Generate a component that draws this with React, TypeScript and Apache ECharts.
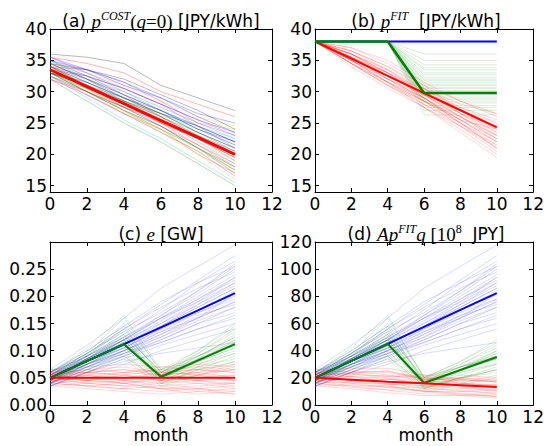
import React, { useEffect, useRef } from 'react';
import * as echarts from 'echarts';

// ---------------- data ----------------
const MONTHS = [0, 2, 4, 6, 8, 10];

const COST_Y_TICKS = [15, 20, 25, 30, 35, 40];
const E_Y_TICKS = [0, 0.05, 0.1, 0.15, 0.2, 0.25];
const D_Y_TICKS = [0, 20, 40, 60, 80, 100, 120];

// (a) p^COST(q=0): thin sample paths (multi-coloured) + mean
const COST_PATHS = [
  [34.5, 32.0, 29.5, 27.0, 24.5, 22.0],
  [33.0, 30.0, 27.0, 24.0, 21.0, 18.0],
  [35.5, 34.5, 33.0, 30.0, 28.0, 26.0],
  [32.5, 29.0, 25.5, 22.5, 19.0, 15.5],
  [34.0, 31.5, 28.5, 26.0, 23.0, 20.5],
  [33.5, 31.0, 28.5, 25.5, 22.0, 19.0],
  [36.0, 35.5, 34.5, 31.0, 29.0, 27.0],
  [34.0, 32.5, 30.5, 28.0, 25.5, 23.5],
  [32.0, 28.5, 25.0, 22.0, 18.5, 15.0],
  [33.0, 31.0, 28.0, 25.0, 22.5, 20.0],
  [35.0, 33.0, 30.0, 27.5, 25.0, 22.5],
  [33.5, 30.5, 27.5, 24.5, 21.5, 18.5],
  [34.5, 32.5, 30.0, 27.5, 25.0, 24.0],
  [32.5, 30.0, 27.0, 24.5, 21.0, 17.5],
  [35.0, 32.5, 29.5, 27.0, 24.0, 21.5],
  [33.0, 30.5, 28.5, 26.0, 23.5, 21.0],
  [34.0, 31.0, 28.0, 25.0, 21.5, 18.0],
  [33.5, 32.0, 30.0, 27.0, 24.5, 22.5],
  [32.0, 29.5, 26.5, 23.5, 20.5, 16.5],
  [34.5, 33.0, 31.0, 28.5, 26.0, 24.5],
  [33.0, 30.0, 27.5, 25.5, 22.5, 19.5],
  [35.5, 33.5, 31.0, 29.0, 26.5, 25.0],
  [34.0, 31.5, 29.0, 26.0, 23.0, 20.0],
  [32.5, 29.5, 26.5, 24.0, 20.0, 17.0],
  [33.5, 31.5, 29.0, 26.5, 24.0, 21.5],
  [34.0, 33.5, 31.5, 28.5, 25.0, 23.0],
  [33.0, 30.5, 27.0, 23.5, 20.0, 16.0],
  [34.5, 32.0, 29.0, 26.5, 23.5, 21.0],
  [35.0, 33.5, 31.5, 29.0, 26.0, 23.5],
  [33.0, 31.0, 29.0, 26.5, 23.5, 20.5],
  [34.0, 32.0, 29.5, 26.0, 22.5, 19.5],
  [32.5, 30.5, 28.0, 25.5, 22.0, 18.5],
  [35.5, 33.0, 30.5, 28.0, 25.5, 23.0],
  [33.5, 30.0, 26.5, 23.5, 20.5, 17.5],
  [34.5, 33.5, 32.0, 29.5, 27.0, 24.0],
  [33.0, 31.5, 29.0, 27.0, 24.0, 22.0],
  [34.0, 31.0, 27.5, 24.5, 21.0, 17.0],
  [32.0, 30.0, 27.5, 25.0, 22.5, 19.0],
  [35.0, 32.0, 28.5, 25.5, 23.0, 20.5],
  [33.5, 32.5, 30.5, 28.0, 24.5, 21.0],
  [34.0, 30.5, 27.0, 24.0, 21.0, 18.0],
  [33.0, 31.0, 28.5, 26.5, 24.5, 22.0],
];
const COST_MEAN = [33.5, 30.8, 28.1, 25.4, 22.7, 20.0];

// (b) p^FIT
const FIT_RED_PATHS = [
  [38, 35.5, 32.5, 29.5, 26.0, 23.0],
  [38, 36.5, 34.0, 31.0, 28.5, 26.0],
  [38, 35.0, 31.5, 28.0, 24.5, 21.0],
  [38, 36.0, 33.0, 30.0, 27.0, 24.0],
  [38, 34.5, 31.0, 28.0, 25.0, 22.0],
  [38, 35.5, 33.0, 30.5, 27.0, 23.5],
  [38, 37.0, 35.0, 31.5, 28.5, 26.5],
  [38, 35.0, 32.0, 29.0, 25.5, 22.5],
  [38, 34.5, 31.5, 27.5, 23.5, 19.5],
  [38, 36.0, 33.5, 30.0, 26.5, 24.5],
  [38, 35.5, 32.0, 29.0, 25.0, 21.5],
  [38, 36.5, 33.5, 29.5, 27.5, 25.5],
  [38, 35.0, 32.5, 30.0, 26.5, 23.0],
  [38, 34.0, 30.5, 27.5, 24.5, 20.5],
  [38, 36.0, 33.0, 29.5, 26.0, 22.5],
  [38, 35.5, 32.5, 28.5, 25.5, 24.0],
  [38, 37.0, 34.5, 31.0, 27.0, 25.0],
  [38, 35.0, 31.5, 28.5, 25.0, 21.0],
  [38, 36.0, 32.5, 29.5, 26.5, 23.5],
  [38, 34.5, 31.0, 28.5, 25.5, 22.0],
  [38, 35.5, 33.0, 29.0, 25.5, 22.0],
  [38, 36.0, 33.5, 30.5, 27.5, 25.0],
  [38, 34.5, 31.0, 27.5, 24.0, 20.0],
  [38, 35.5, 32.0, 28.5, 26.0, 23.0],
  [38, 36.5, 34.0, 30.5, 26.5, 24.0],
  [38, 35.0, 31.5, 29.0, 26.0, 22.5],
  [38, 35.5, 32.5, 30.5, 28.0, 26.5],
  [38, 34.5, 31.5, 28.5, 24.5, 21.5],
  [38, 36.0, 33.0, 29.0, 25.0, 21.0],
  [38, 35.0, 32.0, 29.5, 27.0, 24.5],
];
const FIT_GREEN_PATHS = [
  [38, 38, 38, 36.0, 36.0, 36.0],
  [38, 38, 38, 34.3, 34.3, 34.3],
  [38, 38, 38, 33.5, 33.5, 33.5],
  [38, 38, 38, 32.7, 32.7, 32.7],
  [38, 38, 38, 32.0, 32.0, 32.0],
  [38, 38, 38, 31.5, 31.5, 31.5],
  [38, 38, 38, 31.0, 31.0, 31.0],
  [38, 38, 38, 30.5, 30.5, 30.5],
  [38, 38, 38, 30.2, 30.2, 30.2],
  [38, 38, 38, 29.6, 29.6, 29.6],
  [38, 38, 38, 29.3, 29.3, 29.3],
  [38, 38, 38, 28.8, 28.8, 28.8],
  [38, 38, 38, 28.2, 28.2, 28.2],
  [38, 38, 38, 27.8, 27.8, 27.8],
  [38, 38, 38, 27.0, 27.0, 27.0],
  [38, 38, 38, 26.3, 26.3, 26.3],
  [38, 38, 38, 31.2, 31.2, 31.2],
  [38, 38, 38, 32.3, 32.3, 32.3],
  [38, 38, 38, 30.7, 30.7, 30.7],
  [38, 38, 38, 33.0, 33.0, 33.0],
  [38, 38, 38, 35.0, 35.0, 35.0],
  [38, 38, 38, 33.8, 33.8, 33.8],
  [38, 38, 38, 31.8, 31.8, 31.8],
  [38, 38, 38, 30.0, 30.0, 30.0],
  [38, 38, 38, 28.5, 28.5, 28.5],
  [38, 38, 38, 27.5, 27.5, 27.5],
  [38, 38, 38, 29.0, 29.0, 29.0],
];
const FIT_BLUE_MAIN = [38, 38, 38, 38, 38, 38];
const FIT_GREEN_MAIN = [38, 38, 38, 29.8, 29.8, 29.8];
const FIT_RED_MAIN = [38, 35.26, 32.52, 29.78, 27.04, 24.3];

// (c) e [GW]
const E_BLUE_PATHS = [
  [0.050, 0.075, 0.100, 0.135, 0.170, 0.200],
  [0.045, 0.080, 0.120, 0.160, 0.200, 0.240],
  [0.060, 0.090, 0.130, 0.175, 0.225, 0.265],
  [0.040, 0.065, 0.090, 0.115, 0.140, 0.165],
  [0.055, 0.085, 0.115, 0.145, 0.180, 0.215],
  [0.035, 0.060, 0.085, 0.110, 0.130, 0.150],
  [0.065, 0.110, 0.160, 0.215, 0.255, 0.295],
  [0.050, 0.080, 0.110, 0.150, 0.190, 0.225],
  [0.045, 0.070, 0.095, 0.120, 0.150, 0.180],
  [0.055, 0.090, 0.125, 0.165, 0.205, 0.250],
  [0.040, 0.060, 0.080, 0.095, 0.105, 0.115],
  [0.050, 0.085, 0.115, 0.155, 0.195, 0.235],
  [0.060, 0.095, 0.135, 0.170, 0.210, 0.255],
  [0.045, 0.075, 0.105, 0.140, 0.170, 0.195],
  [0.035, 0.055, 0.075, 0.100, 0.120, 0.140],
  [0.055, 0.080, 0.110, 0.145, 0.185, 0.220],
  [0.050, 0.090, 0.140, 0.180, 0.215, 0.245],
  [0.040, 0.070, 0.100, 0.130, 0.160, 0.190],
  [0.060, 0.085, 0.120, 0.160, 0.195, 0.230],
  [0.045, 0.075, 0.100, 0.125, 0.160, 0.205],
  [0.050, 0.080, 0.105, 0.140, 0.175, 0.210],
  [0.055, 0.095, 0.140, 0.185, 0.230, 0.275],
  [0.045, 0.070, 0.100, 0.130, 0.165, 0.185],
  [0.060, 0.090, 0.120, 0.150, 0.185, 0.225],
  [0.040, 0.075, 0.110, 0.145, 0.180, 0.215],
  [0.050, 0.085, 0.125, 0.160, 0.190, 0.235],
  [0.035, 0.060, 0.090, 0.120, 0.150, 0.170],
  [0.055, 0.080, 0.105, 0.135, 0.160, 0.190],
  [0.045, 0.085, 0.120, 0.165, 0.210, 0.260],
  [0.060, 0.100, 0.145, 0.190, 0.225, 0.255],
  [0.050, 0.075, 0.095, 0.115, 0.140, 0.160],
  [0.040, 0.065, 0.095, 0.125, 0.155, 0.180],
];
const E_GREEN_PATHS = [
  [0.050, 0.080, 0.110, 0.050, 0.080, 0.110],
  [0.045, 0.085, 0.130, 0.060, 0.095, 0.135],
  [0.060, 0.105, 0.165, 0.065, 0.100, 0.145],
  [0.040, 0.065, 0.090, 0.040, 0.055, 0.075],
  [0.055, 0.090, 0.125, 0.055, 0.090, 0.125],
  [0.035, 0.060, 0.085, 0.035, 0.055, 0.070],
  [0.050, 0.085, 0.120, 0.050, 0.075, 0.100],
  [0.045, 0.075, 0.100, 0.045, 0.070, 0.095],
  [0.055, 0.095, 0.140, 0.060, 0.090, 0.120],
  [0.050, 0.080, 0.115, 0.045, 0.085, 0.115],
  [0.060, 0.095, 0.135, 0.055, 0.085, 0.130],
  [0.040, 0.070, 0.095, 0.040, 0.065, 0.090],
  [0.050, 0.090, 0.150, 0.065, 0.090, 0.115],
  [0.045, 0.075, 0.105, 0.050, 0.080, 0.105],
  [0.055, 0.085, 0.120, 0.045, 0.070, 0.085],
  [0.050, 0.080, 0.110, 0.055, 0.095, 0.140],
  [0.050, 0.085, 0.125, 0.050, 0.080, 0.105],
  [0.045, 0.080, 0.115, 0.040, 0.065, 0.080],
  [0.055, 0.090, 0.130, 0.060, 0.100, 0.150],
  [0.040, 0.075, 0.110, 0.055, 0.075, 0.095],
  [0.060, 0.100, 0.145, 0.050, 0.080, 0.120],
  [0.050, 0.070, 0.090, 0.045, 0.060, 0.080],
  [0.055, 0.095, 0.160, 0.060, 0.085, 0.110],
  [0.045, 0.080, 0.120, 0.050, 0.090, 0.125],
];
const E_RED_PATHS = [
  [0.050, 0.045, 0.055, 0.050, 0.045, 0.050],
  [0.045, 0.040, 0.035, 0.040, 0.030, 0.035],
  [0.060, 0.065, 0.060, 0.070, 0.065, 0.060],
  [0.040, 0.035, 0.030, 0.025, 0.030, 0.025],
  [0.055, 0.060, 0.065, 0.055, 0.060, 0.065],
  [0.050, 0.055, 0.045, 0.050, 0.055, 0.045],
  [0.035, 0.030, 0.025, 0.020, 0.025, 0.020],
  [0.065, 0.070, 0.075, 0.070, 0.075, 0.070],
  [0.045, 0.050, 0.040, 0.045, 0.040, 0.040],
  [0.055, 0.050, 0.060, 0.065, 0.055, 0.055],
  [0.050, 0.040, 0.045, 0.035, 0.040, 0.030],
  [0.060, 0.055, 0.050, 0.060, 0.065, 0.060],
  [0.040, 0.045, 0.040, 0.030, 0.035, 0.040],
  [0.050, 0.060, 0.055, 0.045, 0.050, 0.055],
  [0.045, 0.035, 0.030, 0.035, 0.025, 0.030],
  [0.055, 0.065, 0.070, 0.060, 0.065, 0.075],
  [0.050, 0.055, 0.060, 0.055, 0.050, 0.045],
  [0.040, 0.035, 0.040, 0.030, 0.020, 0.025],
  [0.060, 0.060, 0.055, 0.065, 0.070, 0.065],
  [0.045, 0.050, 0.045, 0.040, 0.045, 0.035],
  [0.055, 0.045, 0.050, 0.055, 0.060, 0.050],
  [0.035, 0.040, 0.035, 0.030, 0.030, 0.020],
  [0.065, 0.060, 0.065, 0.060, 0.055, 0.065],
  [0.050, 0.045, 0.040, 0.050, 0.045, 0.040],
];
const E_BLUE_MAIN = [0.05, 0.081, 0.112, 0.143, 0.174, 0.206];
const E_GREEN_MAIN = [0.05, 0.081, 0.112, 0.052, 0.082, 0.112];
const E_RED_MAIN = [0.05, 0.05, 0.05, 0.05, 0.05, 0.05];

// (d) A p^FIT q [10^8 JPY]
const D_BLUE_PATHS = [
  [20, 30, 40, 54, 66, 78],
  [18, 32, 48, 64, 80, 96],
  [24, 36, 52, 70, 90, 106],
  [16, 26, 36, 46, 56, 66],
  [22, 34, 46, 58, 72, 86],
  [14, 24, 34, 44, 52, 60],
  [26, 44, 64, 86, 102, 118],
  [20, 32, 44, 60, 76, 90],
  [18, 28, 38, 48, 60, 72],
  [22, 36, 50, 66, 82, 100],
  [16, 24, 32, 38, 42, 46],
  [20, 34, 46, 62, 78, 94],
  [24, 38, 54, 68, 84, 102],
  [18, 30, 42, 56, 68, 78],
  [14, 22, 30, 40, 48, 56],
  [22, 32, 44, 58, 74, 88],
  [20, 36, 56, 72, 86, 98],
  [16, 28, 40, 52, 64, 76],
  [24, 34, 48, 64, 78, 92],
  [18, 30, 40, 50, 64, 82],
  [20, 32, 42, 56, 70, 84],
  [22, 38, 56, 74, 92, 110],
  [18, 28, 40, 52, 66, 74],
  [24, 36, 48, 60, 74, 90],
  [16, 30, 44, 58, 72, 86],
  [20, 34, 50, 64, 76, 94],
  [14, 24, 36, 48, 60, 68],
  [22, 32, 42, 54, 64, 76],
  [18, 34, 48, 66, 84, 104],
  [24, 40, 58, 76, 90, 102],
  [20, 30, 38, 46, 56, 64],
  [16, 26, 38, 50, 62, 72],
];
const D_GREEN_PATHS = [
  [20, 32, 44, 16, 26, 36],
  [18, 34, 52, 19, 30, 42],
  [24, 42, 66, 20, 32, 46],
  [16, 26, 36, 11, 16, 22],
  [22, 36, 50, 17, 28, 38],
  [14, 24, 34, 9, 15, 20],
  [20, 34, 48, 15, 22, 30],
  [18, 30, 40, 13, 20, 28],
  [22, 38, 56, 18, 28, 36],
  [20, 32, 46, 14, 26, 34],
  [24, 38, 54, 17, 26, 40],
  [16, 28, 38, 12, 19, 26],
  [20, 36, 60, 21, 28, 34],
  [18, 30, 42, 15, 24, 31],
  [22, 34, 48, 13, 20, 24],
  [20, 32, 44, 17, 30, 44],
  [20, 34, 50, 16, 26, 34],
  [18, 32, 46, 12, 20, 26],
  [22, 36, 52, 20, 32, 48],
  [16, 30, 44, 18, 24, 30],
  [24, 40, 58, 16, 26, 38],
  [20, 28, 36, 14, 20, 26],
  [22, 38, 64, 20, 28, 36],
  [18, 32, 48, 16, 28, 40],
];
const D_RED_PATHS = [
  [20, 18, 19, 16, 14, 14],
  [18, 16, 13, 13, 10, 9],
  [24, 25, 22, 22, 19, 17],
  [16, 13, 11, 8, 8, 6],
  [22, 23, 24, 19, 18, 18],
  [20, 21, 17, 16, 16, 12],
  [14, 12, 9, 7, 7, 5],
  [26, 27, 27, 22, 22, 20],
  [18, 19, 15, 14, 12, 11],
  [22, 19, 21, 21, 16, 15],
  [20, 16, 16, 12, 11, 8],
  [24, 21, 19, 19, 19, 17],
  [16, 17, 14, 10, 10, 11],
  [20, 23, 20, 15, 15, 15],
  [18, 14, 11, 11, 8, 8],
  [22, 24, 25, 19, 20, 19],
  [20, 21, 22, 18, 16, 14],
  [16, 14, 14, 10, 7, 7],
  [24, 23, 21, 20, 20, 18],
  [18, 19, 17, 14, 13, 10],
  [22, 18, 19, 17, 17, 13],
  [14, 15, 13, 10, 9, 6],
  [26, 24, 25, 20, 18, 17],
  [20, 18, 15, 16, 14, 11],
];
const D_BLUE_MAIN = [20, 32.5, 45, 57.5, 70, 82.4];
const D_GREEN_MAIN = [20, 32.5, 45, 16.2, 25.8, 35.3];
const D_RED_MAIN = [20, 18.6, 17.2, 16.0, 14.6, 13.2];

// ---------------- styling ----------------
const BLUE = '#0000ff';
const GREEN = '#008000';
const RED = '#ff0000';
const CYCLE = ['#0000ff', '#008000', '#ff0000', '#00bfbf', '#bf00bf', '#bfbf00', '#000000'];
const SANS = 'DejaVu Sans';
const MATH = 'Liberation Serif';
const FS = 17;

const GRIDS = [
  { left: 50, top: 29, width: 222, height: 163 },
  { left: 315, top: 29, width: 221, height: 163 },
  { left: 50, top: 242, width: 222, height: 163 },
  { left: 315, top: 242, width: 221, height: 163 },
];

const toPts = (vals: number[]) => vals.map((v, i) => [MONTHS[i], v]);

function thin(gi: number, vals: number[], color: string, opacity: number) {
  return {
    type: 'line',
    xAxisIndex: gi * 2,
    yAxisIndex: gi * 2,
    data: toPts(vals),
    symbol: 'none',
    silent: true,
    z: 2,
    lineStyle: { color, width: 1, opacity },
  };
}
function main(gi: number, vals: number[], color: string, width: number, z: number) {
  return {
    type: 'line',
    xAxisIndex: gi * 2,
    yAxisIndex: gi * 2,
    data: toPts(vals),
    symbol: 'none',
    silent: true,
    z,
    lineStyle: { color, width, opacity: 1 },
  };
}

function xAxes(gi: number) {
  const base = {
    gridIndex: gi,
    type: 'value',
    min: 0,
    max: 12,
    interval: 2,
    splitLine: { show: false },
    axisLine: { show: true, onZero: false, lineStyle: { color: '#000', width: 1 } },
    axisTick: { show: true, inside: true, length: 4, lineStyle: { color: '#000', width: 1 } },
  };
  return [
    {
      ...base,
      position: 'bottom',
      axisLabel: {
        show: true,
        margin: 5,
        fontSize: FS,
        lineHeight: 13,
        fontFamily: SANS,
        color: '#000',
        showMinLabel: true,
        showMaxLabel: true,
      },
    },
    { ...base, position: 'top', axisLabel: { show: false } },
  ];
}

function yAxes(gi: number, min: number, max: number, ticks: number[], fmt: (v: number) => string) {
  const base = {
    gridIndex: gi,
    type: 'value',
    min,
    max,
    splitLine: { show: false },
    axisLine: { show: true, onZero: false, lineStyle: { color: '#000', width: 1 } },
  };
  return [
    {
      ...base,
      position: 'left',
      axisTick: { show: true, inside: true, length: 4, customValues: ticks, lineStyle: { color: '#000', width: 1 } },
      axisLabel: {
        show: true,
        margin: 3,
        fontSize: FS,
        lineHeight: 13,
        fontFamily: SANS,
        color: '#000',
        customValues: ticks,
        formatter: (v: number) => fmt(v),
      },
    },
    {
      ...base,
      position: 'right',
      axisTick: { show: true, inside: true, length: 4, customValues: ticks, lineStyle: { color: '#000', width: 1 } },
      axisLabel: { show: false },
    },
  ];
}

const RICH = {
  n: { fontFamily: SANS, fontSize: FS, lineHeight: 26, color: '#000' },
  m: { fontFamily: MATH, fontStyle: 'italic', fontSize: 19, lineHeight: 26, color: '#000' },
  r: { fontFamily: MATH, fontSize: 19, lineHeight: 26, color: '#000' },
  s: { fontFamily: MATH, fontStyle: 'italic', fontSize: 12, height: 10, padding: [3, 0, 0, 0], verticalAlign: 'top', color: '#000' },
  s2: { fontFamily: MATH, fontSize: 12, height: 10, padding: [3, 0, 0, 0], verticalAlign: 'top', color: '#000' },
};

function titleText(x: number, y: number, text: string) {
  return {
    type: 'text',
    x,
    y,
    silent: true,
    style: {
      text,
      align: 'center',
      verticalAlign: 'middle',
      rich: RICH,
    },
  };
}

function plainText(x: number, y: number, text: string) {
  return {
    type: 'text',
    x,
    y,
    silent: true,
    style: {
      text,
      align: 'center',
      verticalAlign: 'middle',
      fontFamily: SANS,
      fontSize: FS,
      lineHeight: 13,
      fill: '#000',
    },
  };
}

export default function App() {
  const ref = useRef<HTMLDivElement>(null);
  useEffect(() => {
    if (!ref.current) return;
    const chart = echarts.init(ref.current, undefined, { renderer: 'svg' });

    const series: any[] = [];
    COST_PATHS.forEach((p, i) => series.push(thin(0, p, CYCLE[i % CYCLE.length], 0.28)));
    series.push(main(0, COST_MEAN, RED, 3, 10));

    FIT_RED_PATHS.forEach((p) => series.push(thin(1, p, RED, 0.16)));
    FIT_GREEN_PATHS.forEach((p) => series.push(thin(1, p, GREEN, 0.14)));
    series.push(main(1, FIT_RED_MAIN, RED, 2, 10));
    series.push(main(1, FIT_BLUE_MAIN, BLUE, 2, 11));
    series.push(main(1, FIT_GREEN_MAIN, GREEN, 2.5, 12));

    E_BLUE_PATHS.forEach((p) => series.push(thin(2, p, BLUE, 0.15)));
    E_GREEN_PATHS.forEach((p) => series.push(thin(2, p, GREEN, 0.15)));
    E_RED_PATHS.forEach((p) => series.push(thin(2, p, RED, 0.15)));
    series.push(main(2, E_BLUE_MAIN, BLUE, 2, 10));
    series.push(main(2, E_GREEN_MAIN, GREEN, 2, 11));
    series.push(main(2, E_RED_MAIN, RED, 2, 12));

    D_BLUE_PATHS.forEach((p) => series.push(thin(3, p, BLUE, 0.15)));
    D_GREEN_PATHS.forEach((p) => series.push(thin(3, p, GREEN, 0.15)));
    D_RED_PATHS.forEach((p) => series.push(thin(3, p, RED, 0.15)));
    series.push(main(3, D_BLUE_MAIN, BLUE, 2, 10));
    series.push(main(3, D_GREEN_MAIN, GREEN, 2, 11));
    series.push(main(3, D_RED_MAIN, RED, 2, 12));

    const intFmt = (v: number) => String(Math.round(v));
    const twoFmt = (v: number) => v.toFixed(2);

    chart.setOption({
      animation: false,
      backgroundColor: '#fff',
      grid: GRIDS.map((g) => ({ ...g, containLabel: false, show: true, backgroundColor: '#fff', borderWidth: 0 })),
      xAxis: [...xAxes(0), ...xAxes(1), ...xAxes(2), ...xAxes(3)],
      yAxis: [
        ...yAxes(0, 14, 40, COST_Y_TICKS, intFmt),
        ...yAxes(1, 14, 40, COST_Y_TICKS, intFmt),
        ...yAxes(2, 0, 0.3, E_Y_TICKS, twoFmt),
        ...yAxes(3, 0, 120, D_Y_TICKS, intFmt),
      ],
      series,
      graphic: [
        titleText(161, 21, '{n|(a) }{m|p}{s|COST}{r|(}{m|q}{r|=0)}{n| [JPY/kWh]}'),
        titleText(426, 21, '{n|(b) }{m|p}{s|FIT}{n|  [JPY/kWh]}'),
        titleText(161, 234, '{n|(c) }{m|e}{n| [GW]}'),
        titleText(426, 234, '{n|(d) }{m|Ap}{s|FIT}{m|q}{r| [10}{s2|8}{n|  JPY]}'),
        plainText(161, 435, 'month'),
        plainText(426, 435, 'month'),
      ],
    });
    return () => chart.dispose();
  }, []);
  return (
    <div
      ref={ref}
      style={{ position: 'fixed', left: 0, top: 0, width: 547, height: 446, background: '#fff' }}
    />
  );
}
